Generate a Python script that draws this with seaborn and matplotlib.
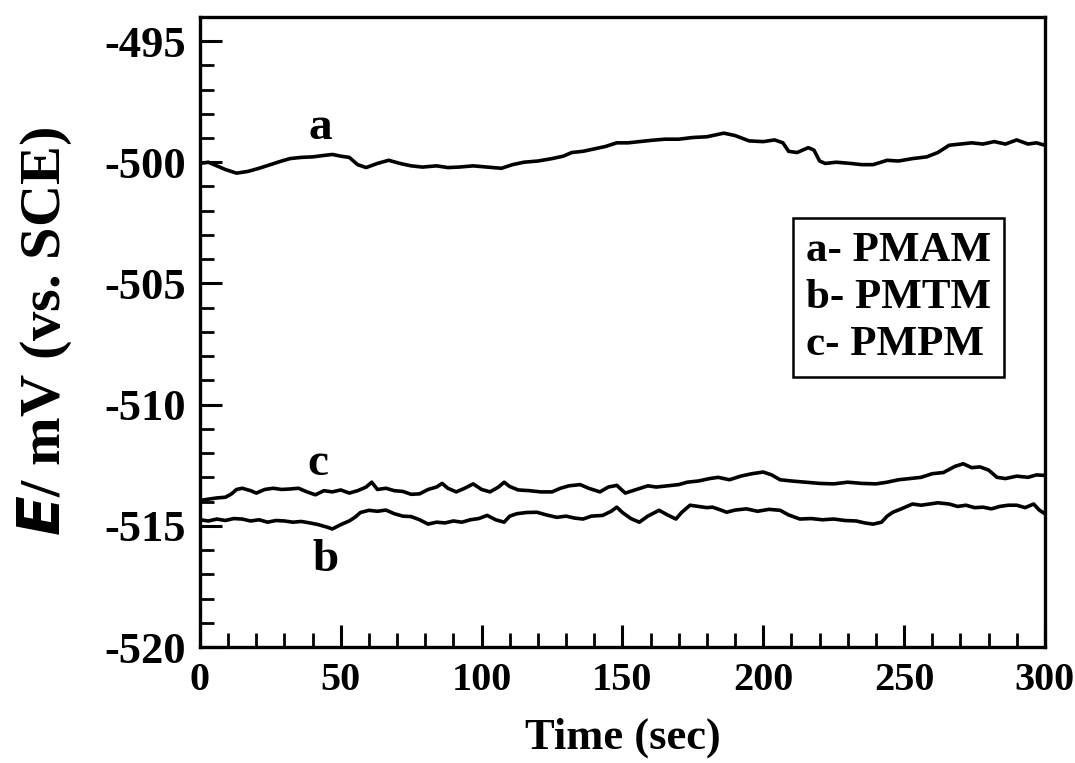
import numpy as np
import pandas as pd
import matplotlib
matplotlib.use("Agg")
import matplotlib.pyplot as plt
from matplotlib.ticker import MultipleLocator
import seaborn as sns

# Open-circuit potential vs. time for the three coatings
time_a = [0, 3, 6, 9, 13, 17, 21, 25, 29, 32, 36, 40, 44, 47, 50, 53, 56, 59, 63, 67,
          71, 75, 79, 84, 88, 92, 97, 102, 107, 111, 115, 120, 125, 129, 132, 136, 140,
          144, 148, 152, 156, 160, 165, 170, 175, 180, 186, 190, 195, 200, 204, 207, 209,
          212, 216, 218, 220, 222, 226, 231, 235, 239, 244, 248, 253, 258, 262, 266, 270,
          274, 278, 282, 286, 290, 294, 297, 300]
pot_a = [-500.05, -500.0, -500.15, -500.3, -500.45, -500.38, -500.25, -500.1, -499.95,
         -499.85, -499.8, -499.78, -499.72, -499.68, -499.75, -499.8, -500.1, -500.22,
         -500.05, -499.92, -500.05, -500.15, -500.2, -500.15, -500.22, -500.2, -500.15,
         -500.2, -500.25, -500.1, -500.0, -499.95, -499.85, -499.75, -499.6, -499.55,
         -499.45, -499.35, -499.2, -499.2, -499.15, -499.1, -499.05, -499.05, -498.98,
         -498.95, -498.8, -498.9, -499.12, -499.15, -499.08, -499.2, -499.55, -499.6,
         -499.4, -499.5, -499.95, -500.05, -500.0, -500.05, -500.1, -500.1, -499.92,
         -499.95, -499.85, -499.78, -499.6, -499.3, -499.25, -499.2, -499.25, -499.15,
         -499.25, -499.08, -499.25, -499.2, -499.3]

time_b = [0, 3, 6, 9, 12, 15, 18, 21, 24, 27, 30, 33, 36, 39, 42, 45, 47, 50, 53, 55, 57,
          60, 63, 66, 69, 72, 75, 78, 81, 84, 87, 90, 93, 96, 99, 102, 105, 108, 110, 112.5,
          116, 119.6, 123, 126.7, 130, 133, 136, 139, 143, 146, 148, 150, 153, 156, 159,
          163, 166, 169, 171, 174, 177, 180, 182, 185, 187, 190, 194, 198, 202, 206, 209,
          213, 217, 221, 225, 229, 233, 236, 239, 242, 244, 246, 249, 253, 256, 259, 262,
          266, 269, 272, 275, 278, 281, 284, 287, 290, 293, 296, 298, 300]
pot_b = [-514.75, -514.8, -514.72, -514.78, -514.7, -514.72, -514.8, -514.75, -514.85,
         -514.78, -514.8, -514.85, -514.82, -514.88, -514.95, -515.05, -515.13, -514.95,
         -514.8, -514.65, -514.45, -514.36, -514.4, -514.35, -514.5, -514.6, -514.62,
         -514.75, -514.93, -514.85, -514.88, -514.8, -514.85, -514.75, -514.7, -514.57,
         -514.75, -514.85, -514.6, -514.5, -514.45, -514.44, -514.55, -514.65, -514.6,
         -514.68, -514.72, -514.6, -514.57, -514.4, -514.23, -514.45, -514.7, -514.85,
         -514.6, -514.36, -514.55, -514.72, -514.45, -514.15, -514.2, -514.25, -514.23,
         -514.35, -514.44, -514.35, -514.3, -514.4, -514.32, -514.36, -514.55, -514.72,
         -514.7, -514.75, -514.72, -514.78, -514.8, -514.88, -514.93, -514.85, -514.6,
         -514.44, -514.3, -514.1, -514.15, -514.1, -514.05, -514.1, -514.2, -514.15,
         -514.25, -514.23, -514.3, -514.2, -514.15, -514.15, -514.25, -514.1, -514.35,
         -514.5]

time_c = [0, 3, 6, 9, 11, 13, 15, 18, 20, 23, 26, 29, 32, 35, 38, 41, 44, 47, 50, 53, 56,
          59, 61, 63, 66, 69, 72, 75, 78, 81, 84, 86, 88, 91, 94, 97, 100, 103, 106, 108,
          110, 113, 117, 121, 125, 128, 131, 135, 138, 142, 145, 148, 151, 155, 159, 162,
          166, 170, 173, 177, 181, 184, 188, 192, 196, 200, 203, 206, 210, 215, 220, 225,
          230, 235, 240, 244, 248, 252, 256, 260, 264, 268, 271, 274, 277, 280, 283, 286,
          290, 294, 297, 300]
pot_c = [-513.95, -513.9, -513.85, -513.82, -513.7, -513.5, -513.45, -513.55, -513.65,
         -513.5, -513.45, -513.5, -513.48, -513.45, -513.6, -513.72, -513.55, -513.6,
         -513.52, -513.65, -513.55, -513.4, -513.2, -513.5, -513.45, -513.55, -513.58,
         -513.7, -513.68, -513.5, -513.4, -513.25, -513.45, -513.6, -513.45, -513.27,
         -513.5, -513.6, -513.4, -513.2, -513.38, -513.52, -513.55, -513.6, -513.6,
         -513.45, -513.35, -513.3, -513.45, -513.6, -513.4, -513.33, -513.65, -513.5,
         -513.35, -513.4, -513.35, -513.3, -513.2, -513.15, -513.05, -513.0, -513.1,
         -512.95, -512.85, -512.78, -512.9, -513.1, -513.15, -513.2, -513.25, -513.27,
         -513.2, -513.25, -513.27, -513.2, -513.1, -513.05, -513.0, -512.85, -512.8,
         -512.55, -512.44, -512.6, -512.57, -512.7, -513.0, -513.05, -512.95, -513.0,
         -512.9, -512.92]

series_labels = ["a- PMAM", "b- PMTM", "c- PMPM"]
curve_tags = ["a", "b", "c"]

df = pd.concat([
    pd.DataFrame({"Time": time_a, "E": pot_a, "Coating": series_labels[0]}),
    pd.DataFrame({"Time": time_b, "E": pot_b, "Coating": series_labels[1]}),
    pd.DataFrame({"Time": time_c, "E": pot_c, "Coating": series_labels[2]}),
], ignore_index=True)

sns.set_style("ticks")
plt.rcParams.update({
    "font.family": ["Liberation Serif", "DejaVu Serif"],
    "font.weight": "bold",
    "axes.labelweight": "bold",
    "axes.unicode_minus": False,
    "text.color": "black",
    "axes.labelcolor": "black",
    "axes.edgecolor": "black",
    "xtick.color": "black",
    "ytick.color": "black",
})

fig = plt.figure(figsize=(10.75, 7.63), dpi=100)
ax = fig.add_axes([0.186, 0.152, 0.786, 0.826])

sns.lineplot(data=df, x="Time", y="E", hue="Coating", hue_order=series_labels,
             palette=["black"] * 3, estimator=None, sort=False, linewidth=2.6, ax=ax)

ax.set_xlim(0, 300)
ax.set_ylim(-520, -494)
ax.xaxis.set_major_locator(MultipleLocator(50))
ax.xaxis.set_minor_locator(MultipleLocator(10))
ax.yaxis.set_major_locator(MultipleLocator(5))
ax.yaxis.set_minor_locator(MultipleLocator(1))
ax.tick_params(which="major", direction="in", length=16, width=2.2,
               top=False, right=False)
ax.tick_params(axis="x", which="major", pad=11, labelsize=29)
ax.tick_params(axis="y", which="major", pad=10, labelsize=32)
ax.tick_params(which="minor", direction="in", length=10, width=2.0, top=False, right=False)
for lbl in ax.get_xticklabels() + ax.get_yticklabels():
    lbl.set_fontweight("bold")
for sp in ax.spines.values():
    sp.set_linewidth(2.4)
    sp.set_visible(True)

ax.set_xlabel("Time (sec)", fontsize=32, fontweight="bold", labelpad=13)
ax.set_ylabel(r"$\mathbf{\mathit{E}}$/ mV (vs. SCE)", fontsize=42, fontweight="bold",
              labelpad=22)

# Curve tags next to each trace
tag_pos = {"a": (42.6, -498.6), "b": (44.4, -516.4), "c": (41.9, -512.45)}
for tag in curve_tags:
    x, y = tag_pos[tag]
    ax.text(x, y, tag, fontsize=34, fontweight="bold", ha="center", va="center")

leg = ax.legend(loc="upper left", bbox_to_anchor=(0.702, 0.681), borderaxespad=0,
                handlelength=0, handletextpad=0, frameon=True, fancybox=False,
                edgecolor="black", framealpha=1, borderpad=0.3, labelspacing=0.18,
                prop={"weight": "bold", "size": 31})
leg.get_frame().set_linewidth(1.8)
for h in leg.legend_handles:
    h.set_visible(False)

fig.savefig("out.png", dpi=100)
